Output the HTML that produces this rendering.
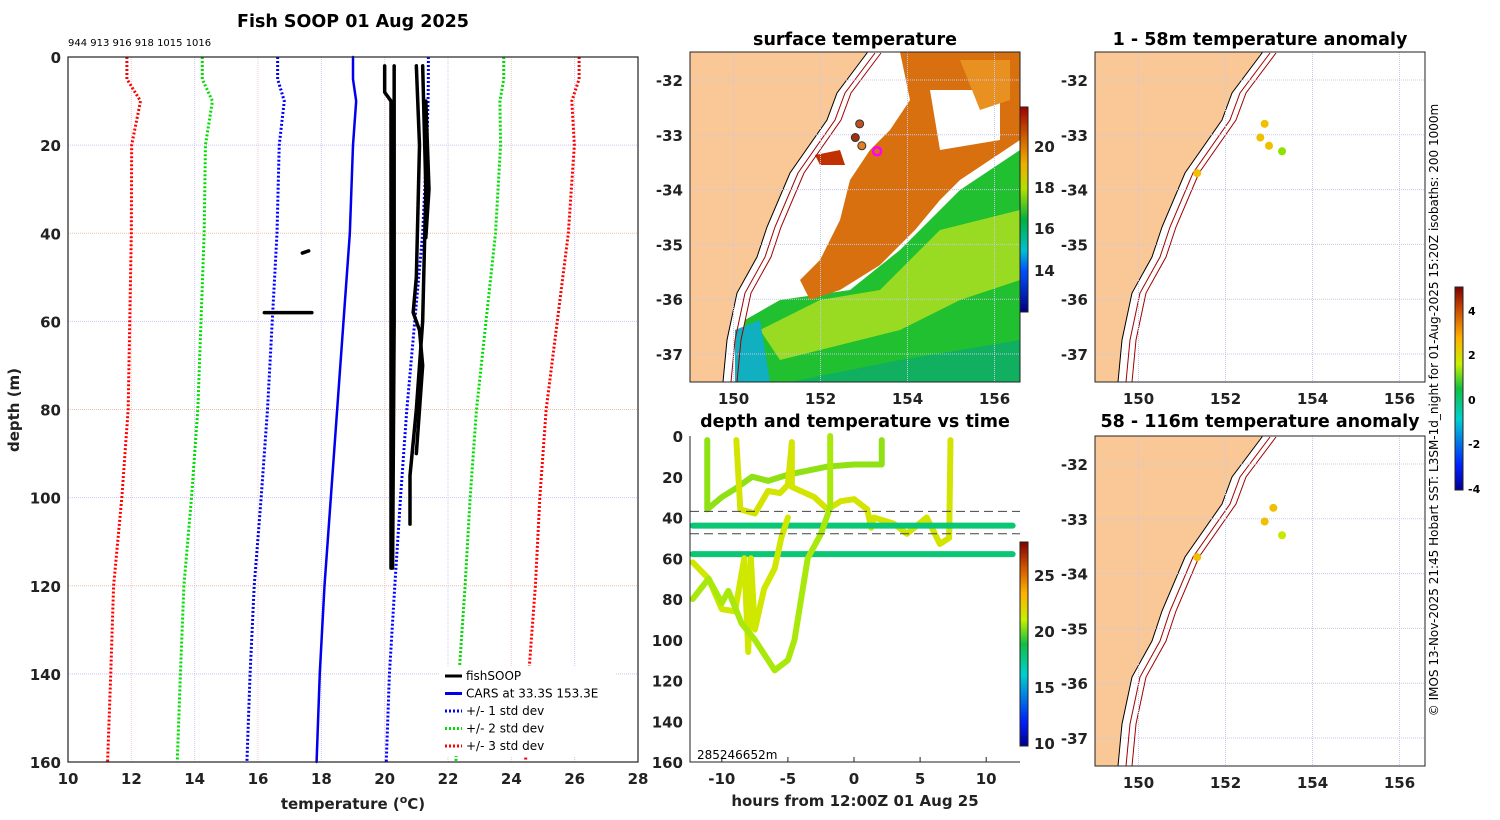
<!DOCTYPE html>
<html><head><meta charset="utf-8"><style>
body{margin:0;background:#fff}
svg{display:block;font-family:"DejaVu Sans","Liberation Sans",sans-serif}
.t{font-weight:bold;font-size:15px;fill:#222}
.ti{font-weight:bold;font-size:17.5px;fill:#000}
</style></head><body>
<svg id="fig" width="1500" height="820" viewBox="0 0 1500 820">
<defs>
<linearGradient id="jet" x1="0" y1="1" x2="0" y2="0">
<stop offset="0" stop-color="#00008f"/><stop offset="0.12" stop-color="#0020ff"/><stop offset="0.35" stop-color="#00d0d0"/><stop offset="0.5" stop-color="#10c040"/><stop offset="0.62" stop-color="#c8f000"/><stop offset="0.75" stop-color="#ffb000"/><stop offset="0.88" stop-color="#d05000"/><stop offset="1" stop-color="#800000"/></linearGradient>
<linearGradient id="sstc" x1="0" y1="1" x2="0" y2="0">
<stop offset="0" stop-color="#000080"/><stop offset="0.2" stop-color="#0050ff"/><stop offset="0.3" stop-color="#00c0d0"/><stop offset="0.45" stop-color="#00b040"/><stop offset="0.6" stop-color="#b0e000"/><stop offset="0.72" stop-color="#f0b000"/><stop offset="0.85" stop-color="#d06000"/><stop offset="1" stop-color="#a00000"/></linearGradient>
<clipPath id="cm"><rect x="690" y="52" width="330" height="330"/></clipPath>
</defs>
<text x="353" y="27" text-anchor="middle" class="ti" font-size="18.5">Fish SOOP 01 Aug 2025</text>
<text x="68" y="46" font-size="10">944 913 916 918 1015 1016</text>
<g id="left"></g>
<text x="353" y="809" text-anchor="middle" class="t" font-size="16.5">temperature (<tspan font-size="11" dy="-6">o</tspan><tspan dy="6">C)</tspan></text>
<text transform="translate(19,410) rotate(-90)" text-anchor="middle" class="t" font-size="16.5">depth (m)</text>
<g id="legend"></g>

<text x="855" y="45" text-anchor="middle" class="ti">surface temperature</text>
<g id="sst"></g>
<text x="855" y="427" text-anchor="middle" class="ti">depth and temperature vs time</text>
<g id="tvt"></g>
<text x="855" y="806" text-anchor="middle" class="t" font-size="16.5">hours from 12:00Z 01 Aug 25</text>

<text x="1260" y="45" text-anchor="middle" class="ti">1 - 58m temperature anomaly</text>
<text x="1260" y="427" text-anchor="middle" class="ti">58 - 116m temperature anomaly</text>
<g id="an1"></g>
<g id="an2"></g>
<g id="cb3"></g>
<text transform="translate(1438,410) rotate(-90)" text-anchor="middle" font-size="12">© IMOS 13-Nov-2025 21:45 Hobart SST: L3SM-1d_night for 01-Aug-2025 15:20Z isobaths: 200  1000m</text>
</svg>
<script>
// ---------- data ----------
const cDepth=[0,5,10,20,40,60,80,100,120,140,160];
const cMean=[19.0,19.0,19.1,19.0,18.9,18.7,18.5,18.3,18.1,17.95,17.85];
const cStd=[2.38,2.38,2.27,2.33,2.3,2.25,2.2,2.2,2.22,2.2,2.2];
const fishA=[[20.0,2],[20.0,8],[20.2,10],[20.2,40],[20.2,116]];
const fishB=[[20.3,2],[20.3,60],[20.25,116]];
const fishC=[[21.2,2],[21.3,30],[21.2,60],[21.0,80],[20.8,95],[20.8,106]];
const fishD=[[21.0,2],[21.1,20],[21.0,50],[20.9,58],[21.1,62],[21.2,70],[21.0,90]];
const fishE=[[21.3,10],[21.4,30],[21.3,41]];
const fishF=[[17.4,44.5],[17.6,44]];
const fishG=[[16.2,58],[17.7,58]];
const tempTicks=[10,12,14,16,18,20,22,24,26,28];
const depthTicks=[0,20,40,60,80,100,120,140,160];
// time plot tracks: [hour, depth]
const trk1=[[-11.1,2],[-11.1,36],[-10,30],[-9,26],[-7.7,20],[-6.5,22],[-5,19],[-2,15],[0,14],[2.1,14],[2.1,2]];
const trk2=[[-8.9,2],[-8.6,36],[-7.5,38],[-6.5,27],[-5.6,28],[-5,24],[-4.7,3],[-4.7,25],[-3,30],[-2,36],[-1,32],[0,31],[1,36],[1.3,45],[1.5,40],[3,43],[4,48],[5.5,40],[6.5,53],[7.2,50],[7.3,2]];
const trk3=[[-12.2,44],[12,44]];
const trk4=[[-12.2,58],[12,58]];
const trk5=[[-12.2,62],[-11,70],[-10,85],[-9,86],[-8.3,60],[-8,106],[-7.8,60],[-7.5,95],[-6.8,75],[-6,65],[-5.5,50],[-5,40]];
const trk6=[[-12.2,80],[-11,70],[-10,82],[-9.5,76],[-8.5,92],[-7.5,100],[-6.5,110],[-6,115],[-5,110],[-4.5,100],[-3.5,60],[-2.5,48],[-1.8,35],[-1.8,0]];
const trkTemp=[20.5,21.6,18,18,21.5,20.8];
const hourTicks=[-10,-5,0,5,10];
const lonTicks=[150,152,154,156];
const latTicks=[-32,-33,-34,-35,-36,-37];
const dotsTop=[[152.9,-32.8],[152.8,-33.05],[153.0,-33.2],[153.3,-33.3],[151.35,-33.7]];
const dotsBot=[[153.1,-32.8],[152.9,-33.05],[153.3,-33.3],[151.35,-33.7]];
const sstDots=[[152.9,-32.8],[152.8,-33.05],[152.95,-33.2]];
// ---------- helpers ----------
const NS="http://www.w3.org/2000/svg";
function mk(p,tag,at){const e=document.createElementNS(NS,tag);for(const k in at)e.setAttribute(k,at[k]);p.appendChild(e);return e;}
function jet(v,lo,hi){const t=Math.max(0,Math.min(1,(v-lo)/(hi-lo)));const st=[[0,[0,0,143]],[0.12,[0,32,255]],[0.35,[0,208,208]],[0.5,[16,192,64]],[0.62,[200,240,0]],[0.75,[255,176,0]],[0.88,[208,80,0]],[1,[128,0,0]]];for(let i=1;i<st.length;i++){if(t<=st[i][0]){const a=st[i-1],b=st[i],f=(t-a[0])/(b[0]-a[0]);return`rgb(${a[1].map((c,j)=>Math.round(c+(b[1][j]-c)*f)).join(',')})`;}}return'rgb(128,0,0)';}
// ---------- left profile ----------
const L=document.getElementById('left');
const xT=t=>68+(t-10)*(570/18), yD=d=>57+d*(705/160);
mk(L,'rect',{x:68,y:57,width:570,height:705,fill:'#fff'});
tempTicks.forEach(t=>{const g=mk(L,'line',{x1:xT(t),x2:xT(t),y1:57,y2:762,stroke:t%4==0?'#f0c8c8':'#c8c8f0','stroke-width':1,'stroke-dasharray':'1 1'});
const tx=mk(L,'text',{x:xT(t),y:784,'text-anchor':'middle',class:'t'});tx.textContent=t;});
depthTicks.forEach(d=>{const g=mk(L,'line',{x1:68,x2:638,y1:yD(d),y2:yD(d),stroke:d%40==0?'#e8c0a8':'#c8c8f0','stroke-width':1,'stroke-dasharray':'1 1'});
const tx=mk(L,'text',{x:61,y:yD(d)+6,'text-anchor':'end',class:'t'});tx.textContent=d;});
function pl(g,pts,st,w,da,name){const e=mk(g,'polyline',{points:pts.map(p=>p.join(',')).join(' '),fill:'none',stroke:st,'stroke-width':w,'stroke-linejoin':'round','stroke-linecap':'round'});if(da){e.setAttribute('stroke-dasharray',da);e.setAttribute('stroke-linecap','butt');}return e;}
[[3,'#ff0000'],[2,'#00dd00'],[1,'#0000ff']].forEach(([k,c])=>{[-1,1].forEach(s=>{pl(L,cDepth.map((d,i)=>[xT(cMean[i]+s*k*cStd[i]),yD(d)]),c,3,'2 2','std-'+k+'-line');});});
pl(L,cDepth.map((d,i)=>[xT(cMean[i]),yD(d)]),'#0000ee',2.5,null,'cars-mean-line');
[fishA,fishB,fishC,fishD,fishE,fishF,fishG].forEach(f=>pl(L,f.map(p=>[xT(p[0]),yD(p[1])]),'#000',3.5,null,'fishsoop-profile'));
mk(L,'rect',{x:68,y:57,width:570,height:705,fill:'none',stroke:'#222','stroke-width':1.2});
const LG=document.getElementById('legend');
mk(LG,'rect',{x:440,y:666,width:175,height:90,fill:'#fff'});
[['fishSOOP','#000',null],['CARS at 33.3S 153.3E','#0000ee',null],['+/- 1 std dev','#0000ff','2 2'],['+/- 2 std dev','#00dd00','2 2'],['+/- 3 std dev','#ff0000','2 2']].forEach((r,i)=>{const y=676+i*17.5;const ln=mk(LG,'line',{x1:445,x2:462,y1:y,y2:y,stroke:r[1],'stroke-width':3});if(r[2])ln.setAttribute('stroke-dasharray',r[2]);const t=mk(LG,'text',{x:466,y:y+4,'font-size':12});t.textContent=r[0];});
// ---------- maps ----------
function mapAx(g,x0,y0,latTop,sst){
 const lx=l=>x0+(l-149.0)*43.5, ly=a=>y0+28+(-32-a)*54.8;
 mk(g,'rect',{x:x0,y:y0,width:330,height:330,fill:'#fff'});
 const land=[[867,53],[837,93],[827,120],[790,173],[767,227],[757,257],[737,293],[727,340],[723,382]].map(p=>[p[0]-690+x0+(sst?0:-10),p[1]-52+y0]);
 if(sst){
  const gr=mk(g,'polygon',{points:'745,320 780,300 850,290 900,250 960,190 1020,150 1020,382 735,382','fill':'#20c030','clip-path':'url(#cm)'});
  mk(g,'polygon',{points:'760,330 820,300 880,290 940,230 1020,210 1020,280 960,300 900,330 840,345 780,360','fill':'#b8e020','opacity':0.8});
  mk(g,'polygon',{points:'735,330 760,320 770,382 735,382','fill':'#10b0c0'});
  mk(g,'polygon',{points:'790,382 900,360 1020,340 1020,382','fill':'#10b060'});
  const or=mk(g,'polygon',{points:'900,52 1020,52 1020,140 960,180 940,200 915,230 880,265 840,290 810,300 800,280 820,260 840,220 850,180 870,150 890,130 910,100','fill':'#d87010'});
  mk(g,'polygon',{points:'930,90 1000,90 1000,140 940,150','fill':'#fff'});
  mk(g,'polygon',{points:'960,60 1010,60 1010,100 980,110','fill':'#e89020'});
  mk(g,'polygon',{points:'815,155 840,150 845,165 820,165','fill':'#c03000'});
 }
 const lp=mk(g,'polygon',{points:[[x0,y0]].concat([[land[0][0],y0]],land,[[land[land.length-1][0],y0+330],[x0,y0+330]]).map(p=>p.join(',')).join(' '),fill:'#fac896',stroke:'#000','stroke-width':1});
 [8,14].forEach(o=>{const iso=mk(g,'polyline',{points:land.map(p=>(p[0]+o)+','+p[1]).join(' '),fill:'none',stroke:'#a00000','stroke-width':1});});
 lonTicks.forEach(l=>{const gl=mk(g,'line',{x1:lx(l),x2:lx(l),y1:y0,y2:y0+330,stroke:'#c8c8e8','stroke-dasharray':'1 1'});
  const t=mk(g,'text',{x:lx(l),y:y0+352,'text-anchor':'middle',class:'t'});t.textContent=l;});
 latTicks.forEach(a=>{const gl=mk(g,'line',{x1:x0,x2:x0+330,y1:ly(a),y2:ly(a),stroke:'#c8c8e8','stroke-dasharray':'1 1'});
  const t=mk(g,'text',{x:x0-7,y:ly(a)+6,'text-anchor':'end',class:'t'});t.textContent=a;});
 mk(g,'rect',{x:x0,y:y0,width:330,height:330,fill:'none',stroke:'#222'});
 return [lx,ly];
}
const S=document.getElementById('sst');
const [sx,sy]=mapAx(S,690,52,-32,true);
sstDots.forEach((d,i)=>{const c=mk(S,'circle',{cx:sx(d[0]),cy:sy(d[1]),r:4,fill:['#c05020','#a03010','#e08020'][i],stroke:'#333'});});
const pos=mk(S,'circle',{cx:sx(153.3),cy:sy(-33.3),r:4,fill:'none',stroke:'#ff00ff','stroke-width':2.5});
mk(S,'rect',{x:1020,y:107,width:8,height:205,fill:'url(#sstc)',stroke:'#222'});
[[20,147],[18,188],[16,229],[14,271]].forEach(([v,y])=>{const t=mk(S,'text',{x:1034,y:y+5,class:'t'});t.textContent=v;});
function anom(id,y0){const g=document.getElementById(id);const [ax,ay]=mapAx(g,1095,y0,-32,false);
 (y0<100?dotsTop:dotsBot).forEach((d,i)=>{const c=mk(g,'circle',{cx:ax(d[0]),cy:ay(d[1]),r:4,fill:i==3&&y0<100?'#90e000':(i==2&&y0>100?'#c8e800':'#f0c000')});});}
anom('an1',52);anom('an2',436);
const C3=document.getElementById('cb3');
mk(C3,'rect',{x:1455,y:287,width:8,height:203,fill:'url(#jet)',stroke:'#222'});
[[4,311],[2,355],[0,400],[-2,444],[-4,489]].forEach(([v,y])=>{const t=mk(C3,'text',{x:1468,y:y+4,'font-size':11,'font-weight':'bold'});t.textContent=v;});
// ---------- time plot ----------
const T=document.getElementById('tvt');
const hx=h=>854+h*13.22, dy=d=>436+d*(326/160);
mk(T,'rect',{x:690,y:436,width:330,height:326,fill:'#fff'});
[trk1,trk2,trk3,trk4,trk5,trk6].forEach((tr,i)=>pl(T,tr.map(p=>[hx(p[0]),dy(p[1])]),jet(trkTemp[i],10,28),6,null,'time-track'));
[37,48].forEach(d=>{const l=mk(T,'line',{x1:690,x2:1020,y1:dy(d),y2:dy(d),stroke:'#444','stroke-dasharray':'9 5'});});
depthTicks.forEach(d=>{const t=mk(T,'text',{x:683,y:dy(d)+6,'text-anchor':'end',class:'t'});t.textContent=d;});
hourTicks.forEach(h=>{mk(T,'line',{x1:hx(h),x2:hx(h),y1:762,y2:757,stroke:'#222'});const t=mk(T,'text',{x:hx(h),y:784,'text-anchor':'middle',class:'t'});t.textContent=h;});
const lb=mk(T,'text',{x:697,y:759,'font-size':12});lb.textContent='285246652m';
mk(T,'polyline',{points:'690,436 690,762 1020,762',fill:'none',stroke:'#222'});
mk(T,'rect',{x:1020,y:542,width:8,height:204,fill:'url(#jet)',stroke:'#222'});
[[25,576],[20,632],[15,688],[10,744]].forEach(([v,y])=>{const t=mk(T,'text',{x:1034,y:y+5,class:'t'});t.textContent=v;});
</script>
</body></html>
